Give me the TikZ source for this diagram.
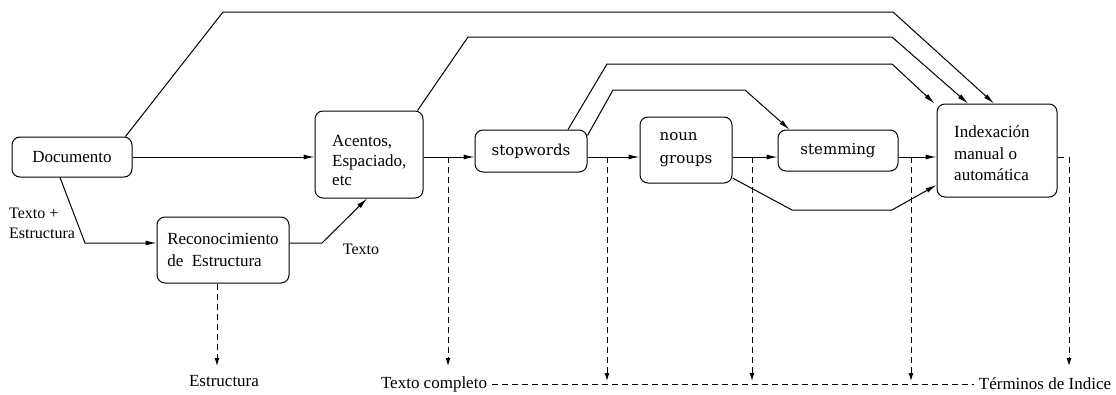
\documentclass[tikz,border=0pt]{standalone}
\usepackage{fontspec}
\newfontfamily\tnr{Liberation Serif}
\newfontfamily\dvs{DejaVu Serif}
\usetikzlibrary{arrows.meta}
\begin{document}
\begin{tikzpicture}[x=1pt,y=-1pt,
  box/.style={draw,rounded corners=8pt,line width=1pt,inner sep=0pt,
    font=\tnr\fontsize{17}{22}\selectfont},
  wbox/.style={box,font=\dvs\fontsize{15}{23}\selectfont},
  lbl/.style={inner sep=0pt,font=\tnr\fontsize{17}{20}\selectfont},
  link/.style={line width=1pt},
  flow/.style={link,-{Latex[length=11pt,width=5pt]}},
  tap/.style={link,dash pattern=on 6pt off 4pt,-{Latex[length=8pt,width=5pt]}},
  tapline/.style={link,dash pattern=on 6pt off 4pt}]
\useasboundingbox (0,0) rectangle (1116,394);

% processing stages
\node[box,minimum width=120pt,minimum height=40pt] (doc) at (72,157) {Documento};
\node[box,minimum width=108pt,minimum height=87pt] (acc) at (369,154.5) {};
\node[lbl,align=left,anchor=west,font=\tnr\fontsize{17}{19.5}\selectfont] (acct) at (332,160.5)
  {Acentos,\\Espaciado,\\etc};
\node[box,minimum width=132pt,minimum height=66pt,align=left] (recon) at (223,250)
  {Reconocimiento\\de\ \ Estructura};
\node[wbox,minimum width=112pt,minimum height=42pt] (stop) at (531,151) {stopwords};
\node[wbox,minimum width=92pt,minimum height=66pt,align=left] (noun) at (686,150) {noun\\groups};
\node[wbox,minimum width=120pt,minimum height=41pt] (stem) at (838,150.5) {stemming};
\node[box,minimum width=120pt,minimum height=93pt] (idx) at (997,150.5) {};
\node[lbl,align=left,anchor=west,font=\tnr\fontsize{17}{21.5}\selectfont] (idxt) at (954,153.5)
  {Indexación\\manual o\\automática};

% edge labels
\node[lbl,align=left,anchor=west,font=\tnr\fontsize{16}{20}\selectfont] (te) at (9,223)
  {Texto +\\Estructura};
\node[lbl,font=\tnr\fontsize{16}{20}\selectfont] (tx) at (361,249) {Texto};

% outputs
\node[lbl] (estr) at (224,381) {Estructura};
\node[lbl] (tcomp) at (434,384) {Texto completo};
\node[lbl] (tind) at (1045,384) {Términos de Indice};

% main text flow
\coordinate (fl) at (0,157);
\draw[flow] (doc.east) -- (acc.west |- fl);
\draw[flow] (acc.east |- fl) -- (stop.west |- fl);
\draw[flow] (stop.east |- fl) -- (noun.west |- fl);
\draw[flow] (noun.east |- fl) -- (stem.west |- fl);
\draw[flow] (stem.east |- fl) -- (idx.west |- fl);

% structure recognition branch
\draw[flow] ([xshift=-12pt]doc.south) -- (85,243) coordinate (ka) -- (recon.west |- ka);
\draw[flow] (recon.east |- ka) -- (322,243) -- ([xshift=-2pt]acc.south);

% bypass routes
\draw[flow] ([xshift=-7pt]doc.north east) -- (223,12) -- (893,12) -- ([xshift=-3pt]idx.north);
\draw[flow] ([xshift=-6pt]acc.north east) -- (468,37) -- (892,37) -- ([xshift=-29pt]idx.north);
\draw[flow] ([xshift=37pt]stop.north) -- (607,64) -- (892,64) -- ([xshift=-2pt]idx.north west);
\draw[flow] ([yshift=-6pt]stop.north east) -- (613,90) -- (745,90) -- ([xshift=12pt]stem.north west);
\draw[flow] ([yshift=-28pt]noun.east) -- (792,210) -- (892,210) -- ([yshift=-34.5pt]idx.west);

% output taps
\coordinate (t1) at (448,157);
\coordinate (t2) at (607,157);
\coordinate (t3) at (752,157);
\coordinate (t4) at (911,157);
\coordinate (t5) at (1069,157);
\coordinate (e1) at (448,366);
\coordinate (e2) at (607,381);
\coordinate (e3) at (752,381);
\coordinate (e4) at (911,381);
\coordinate (e5) at (1069,366);
\coordinate (e0) at (217,366);
\draw[link] (idx.east |- fl) -- (1064,157);
\draw[tap] ([xshift=-6pt]recon.south) -- (e0);
\draw[tap] (t1) -- (e1);
\draw[tap] (t2) -- (e2);
\draw[tap] (t3) -- (e3);
\draw[tap] (t4) -- (e4);
\draw[tap] (t5) -- (e5);
\draw[tapline] ([xshift=5pt]tcomp.east) -- ([xshift=-5pt]tind.west);
\end{tikzpicture}
\end{document}
